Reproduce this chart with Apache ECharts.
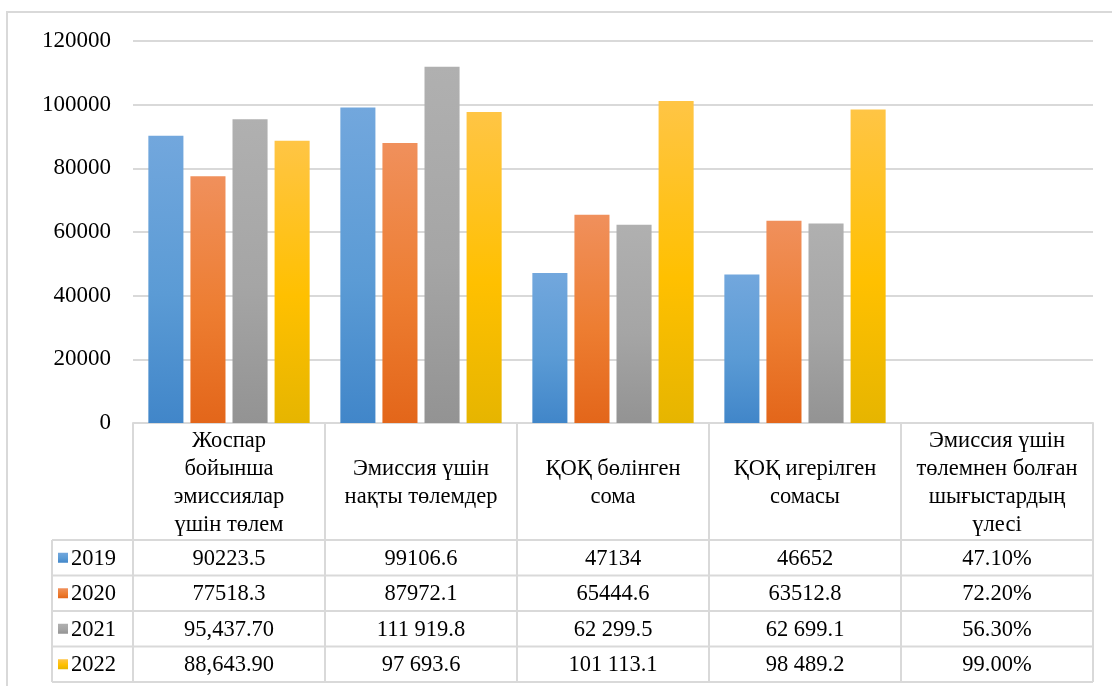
<!DOCTYPE html>
<html>
<head>
<meta charset="utf-8">
<script src="https://cdn.jsdelivr.net/npm/echarts@6/dist/echarts.min.js"></script>
<style>
  html, body { margin: 0; padding: 0; background: #ffffff; }
  #chart { width: 1112px; height: 686px; }
</style>
</head>
<body>
<div id="chart"></div>
<script>
// Column headings of the data table (one per category)
const categories = [
  'Жоспар\nбойынша\nэмиссиялар\nүшін төлем',
  'Эмиссия үшін\nнақты төлемдер',
  'ҚОҚ бөлінген\nсома',
  'ҚОҚ игерілген\nсомасы',
  'Эмиссия үшін\nтөлемнен болған\nшығыстардың\nүлесі'
];

// Series names
const years = ['2019', '2020', '2021', '2022'];

// Table cells, exactly as printed; bar values are parsed from these
const cells2019 = ['90223.5', '99106.6', '47134', '46652', '47.10%'];
const cells2020 = ['77518.3', '87972.1', '65444.6', '63512.8', '72.20%'];
const cells2021 = ['95,437.70', '111 919.8', '62 299.5', '62 699.1', '56.30%'];
const cells2022 = ['88,643.90', '97 693.6', '101 113.1', '98 489.2', '99.00%'];
const tableCells = [cells2019, cells2020, cells2021, cells2022];

// Value axis
const yMin = 0;
const yMax = 120000;
const yStep = 20000;

// Bar gradients: [top, middle, bottom]
const seriesColors = [
  ['#72a7dd', '#5b9bd5', '#4186c9'],
  ['#f0905c', '#ed7d31', '#e3661a'],
  ['#b0b0b0', '#a5a5a5', '#939393'],
  ['#ffc545', '#ffc000', '#e6b500']
];

const FONT = '"Liberation Serif", "Times New Roman", serif';

function parseCell(s) {
  const t = s.replace(/[\s,]/g, '');
  if (t.endsWith('%')) return parseFloat(t) / 100;
  return parseFloat(t);
}

function gradient(c) {
  return new echarts.graphic.LinearGradient(0, 0, 0, 1, [
    { offset: 0, color: c[0] },
    { offset: 0.55, color: c[1] },
    { offset: 1, color: c[2] }
  ]);
}

const chart = echarts.init(document.getElementById('chart'), null, { renderer: 'canvas' });

const series = years.map((y, i) => ({
  name: y,
  type: 'bar',
  data: tableCells[i].map(parseCell),
  barGap: '20%',
  barCategoryGap: '16%',
  itemStyle: {
    color: gradient(seriesColors[i]),
    shadowBlur: 6,
    shadowColor: 'rgba(0,0,0,0.35)',
    shadowOffsetX: 1.5,
    shadowOffsetY: 1.5
  },
  emphasis: { disabled: true }
}));

chart.setOption({
  animation: false,
  backgroundColor: '#ffffff',
  grid: { left: 133, right: 19, top: 41, bottom: 263, containLabel: false },
  xAxis: {
    type: 'category',
    data: categories,
    boundaryGap: true,
    axisLine: { show: true, lineStyle: { color: '#d9d9d9', width: 2 } },
    axisTick: { show: false },
    axisLabel: { show: false },
    splitLine: { show: false }
  },
  yAxis: {
    type: 'value',
    min: yMin,
    max: yMax,
    interval: yStep,
    axisLine: { show: false },
    axisTick: { show: false },
    axisLabel: {
      margin: 22,
      color: '#000000',
      fontFamily: FONT,
      fontSize: 23,
      formatter: (v) => String(v)
    },
    splitLine: { lineStyle: { color: '#d9d9d9', width: 2 } }
  },
  series: series
});

// Data table beneath the plot, laid out from the category axis positions
function buildTable() {
  const x0 = chart.convertToPixel({ xAxisIndex: 0 }, 0);
  const x1 = chart.convertToPixel({ xAxisIndex: 0 }, 1);
  const band = x1 - x0;
  const left = x0 - band / 2;
  const right = left + band * categories.length;
  const axisY = chart.convertToPixel({ yAxisIndex: 0 }, 0);
  const headerH = 117;
  const rowH = 35.5;
  const legendLeft = 52;
  const rowsTop = axisY + headerH;
  const bottom = rowsTop + rowH * years.length;
  const lineStyle = { stroke: '#d9d9d9', lineWidth: 2 };
  const els = [];

  // outer frame of the chart area
  els.push({ type: 'rect', shape: { x: 7, y: 12, width: 1200, height: 800 },
    style: { fill: null, stroke: '#d9d9d9', lineWidth: 2 }, silent: true });

  // vertical column separators
  for (let c = 0; c <= categories.length; c++) {
    const x = left + band * c;
    els.push({ type: 'line', shape: { x1: x, y1: axisY, x2: x, y2: bottom }, style: lineStyle, silent: true });
  }
  els.push({ type: 'line', shape: { x1: legendLeft, y1: rowsTop, x2: legendLeft, y2: bottom }, style: lineStyle, silent: true });

  // horizontal row separators
  for (let r = 0; r <= years.length; r++) {
    const y = rowsTop + rowH * r;
    els.push({ type: 'line', shape: { x1: legendLeft, y1: y, x2: right, y2: y }, style: lineStyle, silent: true });
  }

  // column headings
  categories.forEach((name, c) => {
    els.push({ type: 'text', x: left + band * (c + 0.5), y: axisY + headerH / 2 + 2, silent: true,
      style: { text: name, font: '22.5px ' + FONT, fill: '#000', align: 'center', verticalAlign: 'middle', lineHeight: 28 } });
  });

  // legend keys, years and values
  years.forEach((yr, r) => {
    const cy = rowsTop + rowH * (r + 0.5);
    els.push({ type: 'rect', shape: { x: legendLeft + 6, y: cy - 5, width: 10, height: 10 }, silent: true,
      style: { fill: gradient(seriesColors[r]) } });
    els.push({ type: 'text', x: legendLeft + 19, y: cy + 1, silent: true,
      style: { text: yr, font: '22.5px ' + FONT, fill: '#000', align: 'left', verticalAlign: 'middle' } });
    tableCells[r].forEach((txt, c) => {
      els.push({ type: 'text', x: left + band * (c + 0.5), y: cy + 1, silent: true,
        style: { text: txt, font: '22.5px ' + FONT, fill: '#000', align: 'center', verticalAlign: 'middle' } });
    });
  });

  chart.setOption({ graphic: { elements: els } });
}

buildTable();
</script>
</body>
</html>
